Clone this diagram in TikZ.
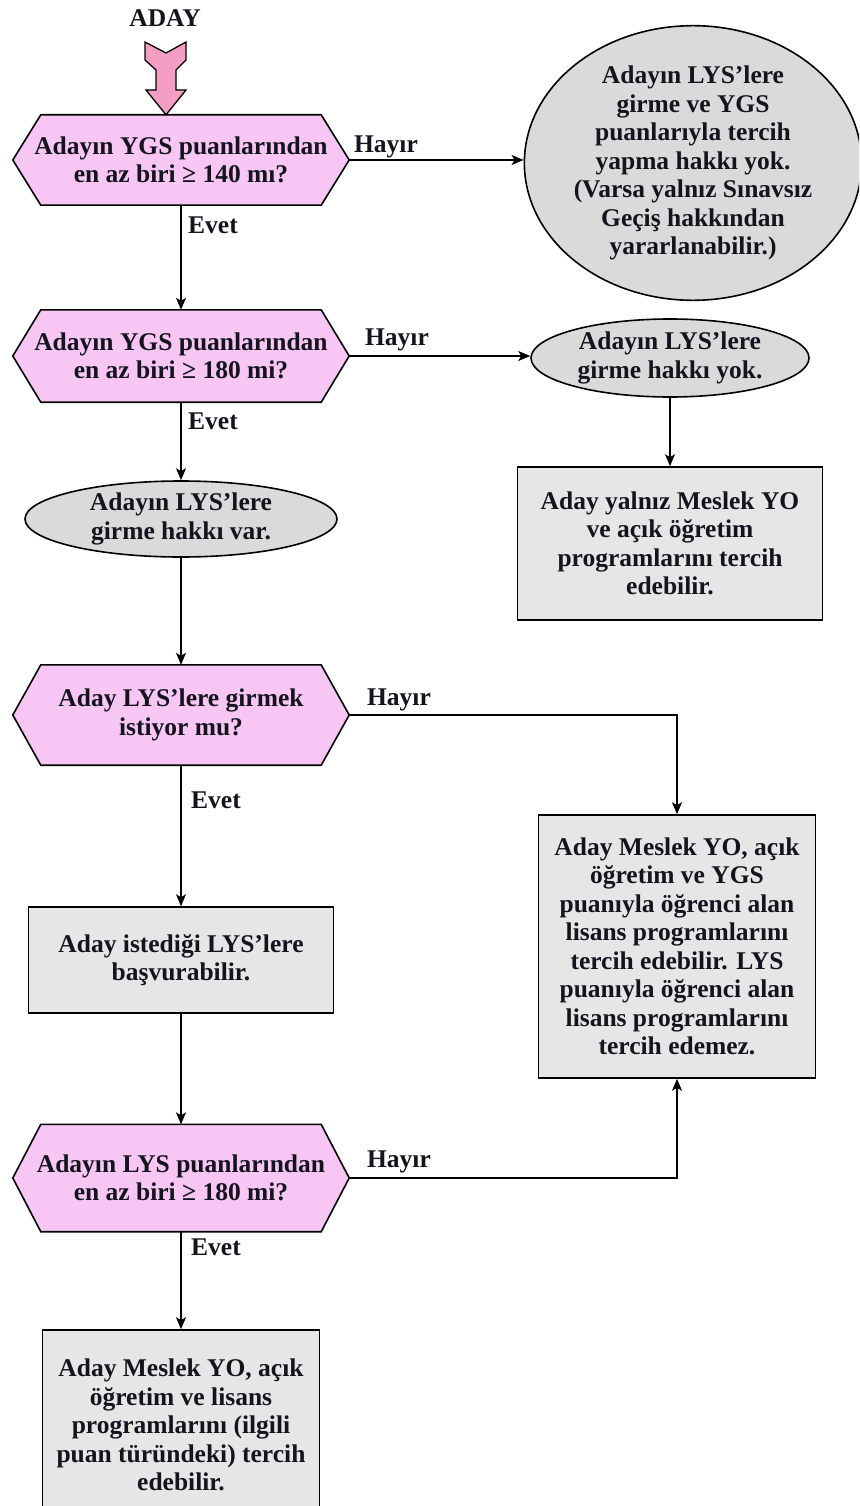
\documentclass[tikz,border=0pt]{standalone}
\usepackage{fontspec}
\setmainfont{Liberation Serif}
\usetikzlibrary{arrows.meta,calc,shapes.geometric,backgrounds}
\definecolor{pinkfill}{HTML}{F8C6F4}
\definecolor{arrowpink}{HTML}{F59EC4}
\definecolor{ellgray}{HTML}{DADADA}
\definecolor{boxgray}{HTML}{E6E6E6}
\definecolor{inkcol}{HTML}{14141E}
\begin{document}
\begin{tikzpicture}[x=1pt,y=-1pt,
  every node/.style={font=\fontsize{25.5}{28.5}\selectfont\bfseries, align=center, inner sep=0pt, text=inkcol},
  hexnode/.style={minimum width=336pt, minimum height=#1},
  hexshape/.style={fill=pinkfill, draw=black, line width=1.6pt, line join=miter},
  ellnode/.style={ellipse, draw=black, fill=ellgray, line width=1.6pt},
  boxnode/.style={rectangle, draw=black, fill=boxgray, line width=1.6pt},
  lbl/.style={},
  arr/.style={-{Stealth[length=12pt,width=10pt,inset=3pt]}, line width=1.3pt}
]
\useasboundingbox (0,0) rectangle (859,1506);
\clip (0,0) rectangle (859,1506);

% start
\node (aday) at (165,18) {ADAY};

% decisions (text nodes; shapes drawn on background)
\node[hexnode=90pt]  (h1) at (181,160)  {Adayın YGS puanlarından\\en az biri ≥ 140 mı?};
\node[hexnode=92pt]  (h2) at (181,356)  {Adayın YGS puanlarından\\en az biri ≥ 180 mi?};
\node[hexnode=100pt] (h3) at (181,715)  {Aday LYS’lere girmek\\istiyor mu?};
\node[hexnode=107pt] (h4) at (181,1178) {Adayın LYS puanlarından\\en az biri ≥ 180 mi?};

% ellipses
\node[ellnode, minimum width=328pt, minimum height=232pt] (e1) at (693,163)
  {Adayın LYS’lere\\girme ve YGS\\puanlarıyla tercih\\yapma hakkı yok.\\(Varsa yalnız Sınavsız\\Geçiş hakkından\\yararlanabilir.)};
\node[ellnode, minimum width=278pt, minimum height=78pt] (e2) at (670,358)
  {Adayın LYS’lere\\girme hakkı yok.};
\node[ellnode, minimum width=312pt, minimum height=76pt] (e3) at (181,519)
  {Adayın LYS’lere\\girme hakkı var.};

% boxes
\node[boxnode, minimum width=305pt, minimum height=153pt] (r1) at (670,543.5)
  {Aday yalnız Meslek YO\\ve açık öğretim\\programlarını tercih\\edebilir.};
\node[boxnode, minimum width=305pt, minimum height=106pt] (r2) at (181,960)
  {Aday istediği LYS’lere\\başvurabilir.};
\node[boxnode, minimum width=277pt, minimum height=263pt] (r3) at (677,946.5)
  {Aday Meslek YO, açık\\öğretim ve YGS\\puanıyla öğrenci alan\\lisans programlarını\\tercih edebilir. LYS\\puanıyla öğrenci alan\\lisans programlarını\\tercih edemez.};
\node[boxnode, minimum width=277pt, minimum height=190pt] (r4) at (181,1425)
  {Aday Meslek YO, açık\\öğretim ve lisans\\programlarını (ilgili\\puan türündeki) tercih\\edebilir.};

% hexagon outlines behind the text
\begin{scope}[on background layer]
\foreach \n in {h1,h2,h3,h4}{
  \path[hexshape] (\n.west) -- ([xshift=28pt]\n.north west) -- ([xshift=-28pt]\n.north east)
    -- (\n.east) -- ([xshift=-28pt]\n.south east) -- ([xshift=28pt]\n.south west) -- cycle;
}
\end{scope}

% pink block arrow from ADAY to first decision
\coordinate (bt) at (166,42);
\path[fill=arrowpink, draw=black, line width=1.3pt, line join=miter]
  (145,42) -- (166,53) -- (186,42) -- (186,60) -- (176,70) -- (176,90) -- (186,90)
  -- (h1.north -| bt) -- (146,90) -- (156,90) -- (156,70) -- (145,60) -- cycle;

% connectors
\draw[arr] (h1.south) -- (h2.north);
\draw[arr] (h1.east) -- (h1.east -| e1.west);
\draw[arr] (h2.south) -- (e3.north);
\draw[arr] (h2.east) -- (h2.east -| e2.west);
\draw[arr] (e2.south) -- (r1.north);
\draw[arr] (e3.south) -- (h3.north);
\draw[arr] (h3.south) -- (r2.north);
\draw[arr] (h3.east) -| (r3.north);
\draw[arr] (r2.south) -- (h4.north);
\draw[arr] (h4.south) -- (r4.north);
\draw[arr] (h4.east) -| (r3.south);

% labels
\node[lbl] (n1) at (386,147) {Hayır};
\node[lbl] (y1) at (213,225) {Evet};
\node[lbl] (n2) at (397,340) {Hayır};
\node[lbl] (y2) at (213,421) {Evet};
\node[lbl] (n3) at (399,700) {Hayır};
\node[lbl] (y3) at (216,800) {Evet};
\node[lbl] (n4) at (399,1162) {Hayır};
\node[lbl] (y4) at (216,1247) {Evet};
\end{tikzpicture}
\end{document}
